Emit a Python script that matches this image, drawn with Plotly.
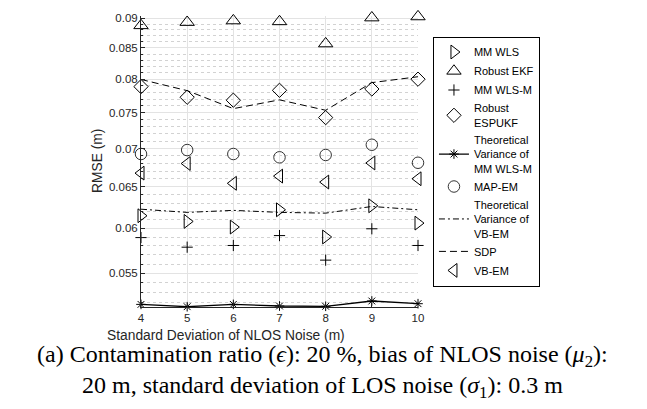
import math
import plotly.graph_objects as go

# ---------------- data ----------------
x_std = [4, 5, 6, 7, 8, 9, 10]
mm_wls = [0.06148, 0.06081, 0.06015, 0.06219, 0.05901, 0.06267, 0.06061]
robust_ekf = [0.08876, 0.08932, 0.08959, 0.08944, 0.08570, 0.09010, 0.09029]
mm_wls_m = [0.05894, 0.05786, 0.05805, 0.05917, 0.05643, 0.05995, 0.05805]
robust_espukf = [0.07888, 0.07728, 0.07684, 0.07832, 0.07430, 0.07852, 0.08002]
theo_mm_wls_m = [0.05181, 0.05158, 0.05181, 0.05165, 0.05162, 0.05215, 0.05188]
map_em = [0.06926, 0.06979, 0.06926, 0.06882, 0.06913, 0.07051, 0.06810]
theo_vb_em = [0.06226, 0.06188, 0.06212, 0.06188, 0.06179, 0.06259, 0.06219]
sdp = [0.07998, 0.07827, 0.07560, 0.07689, 0.07536, 0.07949, 0.08040]
vb_em = [0.06675, 0.06800, 0.06545, 0.06637, 0.06561, 0.06807, 0.06603]

y_ticks = [0.055, 0.06, 0.065, 0.07, 0.075, 0.08, 0.085, 0.09]
y_tick_labels = ["0.055", "0.06", "0.065", "0.07", "0.075", "0.08", "0.085", "0.09"]
y_minor = [round(0.052 + 0.001 * i, 3) for i in range(38)]
y_minor = [v for v in y_minor if all(abs(v - t) > 1e-9 for t in y_ticks)]
y_lo, y_hi = 0.05155, 0.0904

names = ["MM WLS", "Robust EKF", "MM WLS-M", "Robust<br>ESPUKF",
         "Theoretical<br>Variance of<br>MM WLS-M", "MAP-EM",
         "Theoretical<br>Variance of<br>VB-EM", "SDP", "VB-EM"]

BLACK = "#000000"
fig = go.Figure()

def mk(symbol, size, color=BLACK):
    return dict(symbol=symbol, size=size, color=color, line=dict(width=1, color=color))

fig.add_trace(go.Scatter(x=x_std, y=mm_wls, mode="markers", name=names[0],
                         marker=mk("triangle-right-open", 12), cliponaxis=False))
fig.add_trace(go.Scatter(x=x_std, y=robust_ekf, mode="markers", name=names[1],
                         marker=mk("triangle-up-open", 12.5), cliponaxis=False))
fig.add_trace(go.Scatter(x=x_std, y=mm_wls_m, mode="markers", name=names[2],
                         marker=mk("cross-thin", 8), cliponaxis=False))
fig.add_trace(go.Scatter(x=x_std, y=robust_espukf, mode="markers", name=names[3],
                         marker=mk("diamond-open", 11), cliponaxis=False))
fig.add_trace(go.Scatter(x=x_std, y=theo_mm_wls_m, mode="lines+markers", name=names[4],
                         line=dict(color=BLACK, width=1.3),
                         marker=mk("asterisk", 8), cliponaxis=False))
fig.add_trace(go.Scatter(x=x_std, y=map_em, mode="markers", name=names[5],
                         marker=mk("circle-open", 11.5, "#333333"), cliponaxis=False))
fig.add_trace(go.Scatter(x=x_std, y=theo_vb_em, mode="lines", name=names[6],
                         line=dict(color=BLACK, width=1, dash="6px,3px,2px,3px"), cliponaxis=False))
fig.add_trace(go.Scatter(x=x_std, y=sdp, mode="lines", name=names[7],
                         line=dict(color=BLACK, width=1, dash="7px,4px"), cliponaxis=False))
fig.add_trace(go.Scatter(x=x_std, y=vb_em, mode="markers", name=names[8],
                         marker=mk("triangle-left-open", 12), cliponaxis=False))

SANS = "Liberation Sans, Arial, sans-serif"
AX_FONT = dict(family=SANS, size=11.5, color="#262626")

fig.update_layout(
    width=647, height=409,
    margin=dict(l=141, r=229, t=12, b=102, pad=0),
    paper_bgcolor="white", plot_bgcolor="white",
    showlegend=True,
    legend=dict(x=1.054, xanchor="left", y=0.50, yanchor="middle",
                bordercolor=BLACK, borderwidth=1, bgcolor="white",
                font=dict(family=SANS, size=11, color=BLACK),
                itemwidth=30, tracegroupgap=0),
    font=AX_FONT,
)

fig.update_xaxes(
    range=[4, 10], tickmode="array", tickvals=x_std, ticktext=[str(v) for v in x_std],
    showgrid=True, gridcolor="#e3e3e3", gridwidth=1,
    showline=True, linecolor="#262626", linewidth=1,
    ticks="inside", ticklen=4, tickcolor="#262626",
    zeroline=False, tickfont=AX_FONT,
)
fig.update_yaxes(
    type="log", range=[math.log10(y_lo), math.log10(y_hi)],
    tickmode="array", tickvals=y_ticks, ticktext=y_tick_labels,
    showgrid=True, gridcolor="#e3e3e3", gridwidth=1,
    showline=True, linecolor="#262626", linewidth=1,
    ticks="inside", ticklen=4, tickcolor="#262626",
    zeroline=False, tickfont=AX_FONT,
    minor=dict(tickmode="array", tickvals=y_minor, showgrid=True,
               gridcolor="#d2d2d2", griddash="dot", gridwidth=1,
               ticks="inside", ticklen=2, tickcolor="#262626"),
)

# axis titles and caption
TITLE_FONT = dict(family=SANS, size=13.8, color="#262626")
fig.add_annotation(text="Standard Deviation of NLOS Noise (m)", xref="paper", yref="paper",
                   x=0.3083, y=-0.0983, showarrow=False, xanchor="center", yanchor="middle",
                   font=TITLE_FONT)
fig.add_annotation(text="RMSE (m)", xref="paper", yref="paper", textangle=-90,
                   x=-0.157, y=0.5, showarrow=False, xanchor="center", yanchor="middle",
                   font=TITLE_FONT)

CAP_FONT = dict(family="Liberation Serif, Times New Roman, serif", size=24, color=BLACK)
fig.add_annotation(text="(a) Contamination ratio (<i>ϵ</i>): 20 %, bias of NLOS noise (<i>μ</i><sub>2</sub>):",
                   xref="paper", yref="paper", x=0.657, y=-0.1695, showarrow=False,
                   xanchor="center", yanchor="middle", font=CAP_FONT)
fig.add_annotation(text="20 m, standard deviation of LOS noise (<i>σ</i><sub>1</sub>): 0.3 m",
                   xref="paper", yref="paper", x=0.657, y=-0.2746, showarrow=False,
                   xanchor="center", yanchor="middle", font=CAP_FONT)

fig.write_html("out.html")
